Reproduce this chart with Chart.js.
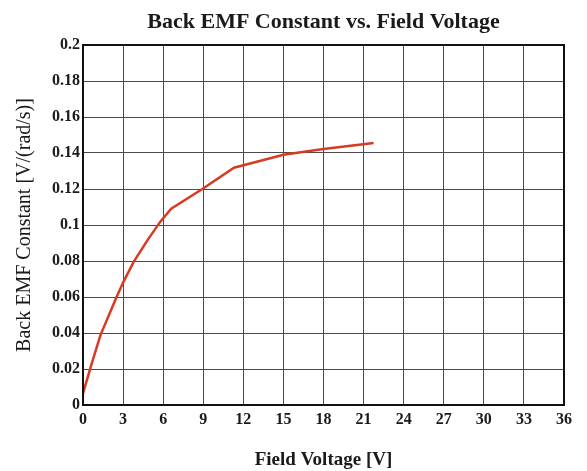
<!DOCTYPE html>
<html>
<head>
<meta charset="utf-8">
<title>Back EMF Constant vs. Field Voltage</title>
<script src="https://cdn.jsdelivr.net/npm/chart.js@4/dist/chart.umd.min.js"></script>
<style>
  html, body { margin: 0; padding: 0; background: #fff; }
  #wrap { width: 587px; height: 471px; position: relative; }
</style>
</head>
<body>
<div id="wrap"><canvas id="emf-chart"></canvas></div>
<script>
// Data
const fieldVoltage = [0, 0.65, 1.3, 2.48, 3.0, 3.78, 4.83, 5.8, 6.6, 8.93, 11.3, 15, 18, 21.75]
const backEmf = [0.0065, 0.023, 0.0387, 0.0595, 0.068, 0.0794, 0.0916, 0.102, 0.109, 0.12, 0.1318, 0.139, 0.1422, 0.1455]

const xTicks = [0, 3, 6, 9, 12, 15, 18, 21, 24, 27, 30, 33, 36]
const yTicks = [0, 0.02, 0.04, 0.06, 0.08, 0.1, 0.12, 0.14, 0.16, 0.18, 0.2]

const SERIF = "'Liberation Serif', 'Times New Roman', serif"
const TITLE = 'Back EMF Constant vs. Field Voltage'

// Title centred over the plot area + black frame round it
const framePlugin = {
  id: 'frame',
  afterDraw(chart) {
    const { ctx, chartArea: a } = chart
    ctx.save()
    ctx.strokeStyle = '#111'
    ctx.lineWidth = 2
    ctx.strokeRect(a.left, a.top, a.right - a.left, a.bottom - a.top)
    ctx.fillStyle = '#1a1a1a'
    ctx.font = `bold 22px ${SERIF}`
    ctx.textAlign = 'center'
    ctx.textBaseline = 'middle'
    ctx.fillText(TITLE, (a.left + a.right) / 2, 22)
    ctx.restore()
  },
}

new Chart(document.getElementById('emf-chart'), {
  type: 'scatter',
  data: {
    datasets: [{
      data: fieldVoltage.map((x, i) => ({ x, y: backEmf[i] })),
      showLine: true,
      borderColor: '#d83a22',
      borderWidth: 2.5,
      pointRadius: 0,
      tension: 0,
    }],
  },
  options: {
    responsive: true,
    maintainAspectRatio: false,
    animation: false,
    layout: { padding: { top: 45, right: 23, bottom: 0, left: 0 } },
    plugins: { legend: { display: false }, tooltip: { enabled: false } },
    scales: {
      x: {
        type: 'linear',
        min: 0, max: 36,
        afterFit: s => { s.height = 66 },
        afterBuildTicks: s => { s.ticks = xTicks.map(v => ({ value: v })) },
        grid: { color: '#4a4a4a', lineWidth: 1, drawTicks: false },
        border: { display: false },
        ticks: { padding: 5, color: '#1a1a1a', font: { family: SERIF, size: 16, weight: 'bold' } },
        title: {
          display: true, text: 'Field Voltage [V]', color: '#1a1a1a',
          font: { family: SERIF, size: 19, weight: 'bold' },
          padding: { top: 0, bottom: 0 },
        },
      },
      y: {
        type: 'linear',
        min: 0, max: 0.2,
        afterFit: s => { s.width = 83 },
        afterBuildTicks: s => { s.ticks = yTicks.map(v => ({ value: v })) },
        grid: { color: '#4a4a4a', lineWidth: 1, drawTicks: false },
        border: { display: false },
        ticks: {
          padding: 3, color: '#1a1a1a',
          font: { family: SERIF, size: 16, weight: 'bold' },
          callback: v => String(+v.toFixed(2)),
        },
        title: {
          display: true, text: 'Back EMF Constant [V/(rad/s)]', color: '#1a1a1a',
          font: { family: SERIF, size: 20 },
          padding: { top: 13, bottom: 0 },
        },
      },
    },
  },
  plugins: [framePlugin],
})
</script>
</body>
</html>
